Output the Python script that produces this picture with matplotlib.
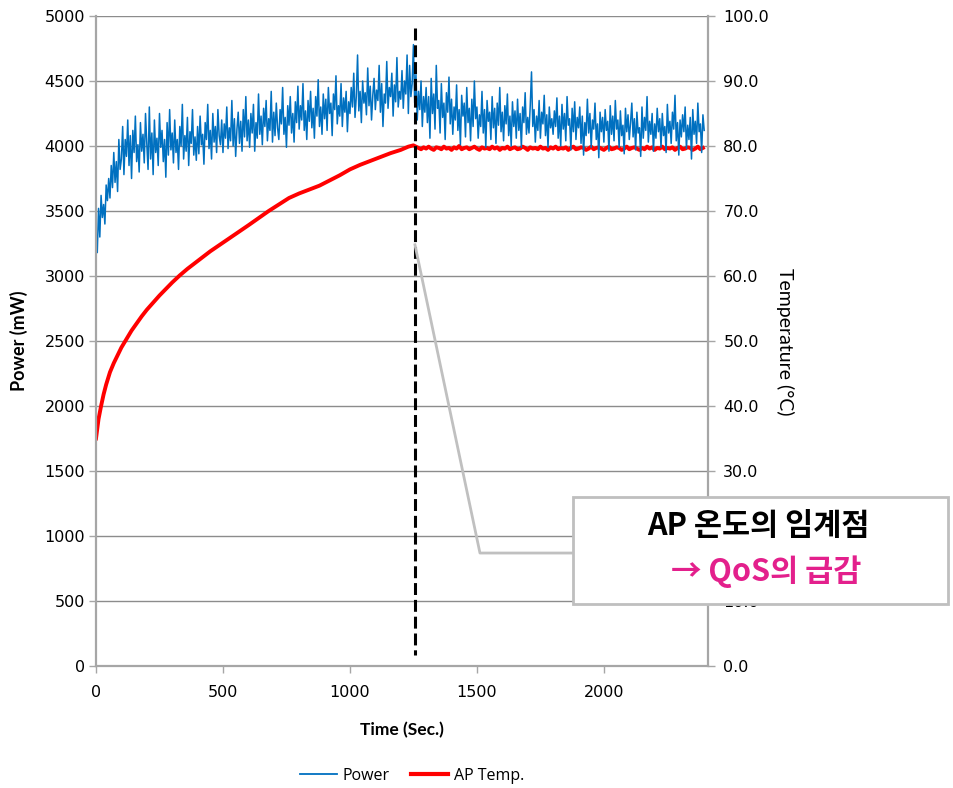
import numpy as np
import matplotlib
matplotlib.use("Agg")
import matplotlib.pyplot as plt
from matplotlib.patches import Rectangle
from matplotlib.lines import Line2D

plt.rcParams['font.family'] = ['DejaVu Sans']

# ---------------- data ----------------
power_step = 5  # seconds between power samples
power_mw = [
    3350, 3180, 3520, 3300, 3620, 3450, 3550, 3400, 3700, 3580, 3750, 3600, 3850, 3680, 3950, 3720, 3880, 3650, 4050, 3820,
    3900, 4150, 3780, 4050, 3920, 4200, 3850, 4080, 3750, 4120, 3950, 4230, 3880, 4010, 3800, 4180, 3960, 4090, 3870, 4250,
    4020, 3820, 4300, 3900, 4100, 3780, 4200, 3950, 4060, 3850, 4250, 3990, 4120, 3880, 4050, 3760, 4180, 3930, 4280, 3970,
    4100, 3870, 4200, 3950, 4050, 3820, 4150, 4000, 4320, 3900, 4080, 3960, 4220, 3850, 4110, 4020, 4280, 3930, 4070, 3890,
    4150, 3940, 4230, 4010, 4090, 3860, 4180, 4050, 4320, 3980, 4120, 3900, 4250, 4030, 4150, 3950, 4280, 4080, 4010, 4200,
    3950, 4170, 4060, 4300, 3980, 4140, 4040, 4350, 4000, 4210, 3920, 4130, 4260, 4020, 4190, 3960, 4280, 4070, 4380, 4040,
    4200, 3990, 4250, 4100, 4320, 3960, 4180, 4060, 4400, 4090, 4230, 4010, 4290, 4150, 4350, 4040, 4210, 4120, 4420, 4030,
    4260, 4080, 4330, 4140, 4050, 4280, 4170, 4450, 4090, 4220, 3990, 4310, 4160, 4380, 4100, 4250, 4030, 4340, 4180, 4460,
    4130, 4310, 4200, 4480, 4120, 4270, 4050, 4350, 4190, 4420, 4140, 4290, 4060, 4380, 4230, 4510, 4150, 4300, 4090, 4400,
    4210, 4360, 4120, 4450, 4250, 4330, 4080, 4400, 4280, 4540, 4170, 4310, 4230, 4480, 4150, 4370, 4260, 4420, 4110, 4340,
    4250, 4450, 4300, 4560, 4220, 4380, 4700, 4270, 4420, 4180, 4500, 4330, 4410, 4240, 4600, 4310, 4460, 4200, 4390, 4520,
    4280, 4430, 4350, 4620, 4260, 4480, 4150, 4400, 4330, 4650, 4290, 4450, 4380, 4560, 4230, 4470, 4340, 4680, 4300, 4420,
    4360, 4580, 4290, 4500, 4400, 4700, 4250, 4620, 4380, 4480, 4780, 4330, 4550, 4200, 4420, 4280, 4500, 4150, 4380, 4260,
    4450, 4180, 4380, 4060, 4520, 4250, 4400, 4130, 4620, 4290, 4350, 4100, 4480, 4220, 4330, 4050, 4410, 4260, 4530, 4170,
    4360, 4090, 4300, 4200, 4470, 4120, 4280, 4010, 4390, 4230, 4330, 4070, 4450, 4180, 4290, 4040, 4360, 4150, 4500, 4210,
    4300, 4060, 4240, 4150, 4420, 4100, 4280, 3990, 4350, 4190, 4260, 4050, 4380, 4140, 4290, 4020, 4330, 4160, 4450, 4110,
    4260, 4040, 4310, 4170, 4400, 4080, 4230, 4000, 4340, 4150, 4270, 4060, 4360, 4120, 4250, 3990, 4300, 4180, 4410, 4090,
    4220, 4100, 4310, 4570, 4150, 4280, 4030, 4230, 4120, 4350, 4060, 4260, 4170, 4390, 4080, 4240, 3990, 4300, 4140, 4210,
    4090, 4270, 4150, 4370, 4060, 4230, 4000, 4320, 4130, 4250, 4040, 4380, 4160, 4210, 3970, 4290, 4110, 4340, 4050, 4220,
    4140, 4300, 4020, 4230, 3930, 4180, 4080, 4360, 4100, 4250, 3990, 4200, 4130, 4330, 4050, 4170, 3910, 4260, 4110, 4220,
    4030, 4280, 4120, 4190, 3960, 4310, 4090, 4230, 4040, 4350, 4130, 4200, 3990, 4270, 4080, 4160, 3940, 4290, 4110, 4240,
    4050, 4180, 4330, 4070, 4210, 3970, 4260, 4100, 4140, 3920, 4300, 4060, 4220, 4120, 4380, 4030, 4190, 4090, 4250, 3960,
    4170, 4060, 4290, 4110, 4210, 3990, 4250, 4080, 4150, 3950, 4320, 4100, 4190, 4020, 4260, 4130, 4390, 4040, 4180, 3930,
    4200, 4070, 4240, 4110, 4300, 3980, 4160, 4050, 4220, 3900, 4280, 4090, 4190, 4020, 4330, 4110, 4170, 3950, 4240, 4120,
]

temp_rise_time = [0, 5, 10, 20, 30, 40, 55, 70, 85, 100, 120, 140, 160, 180, 200, 225, 250, 275, 300, 330,
                  360, 390, 420, 450, 480, 510, 540, 570, 600, 640, 680, 720, 760, 800, 840, 880, 920, 960,
                  1000, 1040, 1080, 1120, 1160, 1200, 1230, 1250]
temp_rise_c = [35.0, 36.5, 38.0, 40.0, 41.8, 43.3, 45.2, 46.6, 47.8, 49.0, 50.3, 51.6, 52.7, 53.8, 54.8, 55.9,
               57.0, 58.0, 59.0, 60.1, 61.1, 62.0, 62.9, 63.8, 64.6, 65.4, 66.2, 67.0, 67.8, 68.9, 70.0, 71.0,
               72.0, 72.7, 73.3, 73.9, 74.7, 75.5, 76.4, 77.1, 77.7, 78.3, 78.9, 79.4, 79.9, 80.1]
temp_flat_start = 1270
temp_flat_step = 10
temp_flat_c = [
    79.7, 79.5, 79.8, 79.6, 79.9, 79.6, 79.4, 79.8, 79.7, 79.5,
    79.9, 79.6, 79.7, 79.4, 79.8, 79.6, 80.0, 79.5, 79.7, 79.8,
    79.5, 79.7, 79.9, 79.6, 79.4, 79.8, 79.6, 79.7, 79.5, 79.9,
    79.6, 79.8, 79.4, 79.7, 79.6, 79.9, 79.5, 79.7, 79.8, 79.5,
    79.6, 79.9, 79.7, 79.4, 79.8, 79.6, 79.7, 79.5, 79.9, 79.6,
    79.7, 79.4, 79.8, 79.6, 79.9, 79.5, 79.7, 79.6, 79.8, 79.4,
    79.7, 79.9, 79.5, 79.6, 79.8, 79.7, 79.4, 79.6, 79.9, 79.5,
    79.7, 79.8, 79.6, 79.4, 79.7, 79.9, 79.5, 79.6, 79.8, 79.7,
    79.4, 79.6, 79.9, 79.5, 79.7, 79.8, 79.6, 79.4, 79.7, 79.5,
    79.9, 79.6, 79.8, 79.4, 79.7, 79.6, 79.9, 79.5, 79.7, 79.6,
    79.8, 79.4, 79.7, 79.9, 79.5, 79.6, 79.8, 79.7, 79.4, 79.6,
    79.9, 79.5, 79.7,
]

critical_time = 1256
power_ticks = list(range(0, 5001, 500))
temp_ticks = list(range(0, 101, 10))
time_ticks = [0, 500, 1000, 1500, 2000]

# ---------------- figure ----------------
W, H = 954, 788
fig = plt.figure(figsize=(W / 100, H / 100), dpi=100)
L, R, T, B = 96, 708, 16, 666
ax2 = fig.add_axes([L / W, 1 - B / H, (R - L) / W, (B - T) / H])
ax = ax2.twinx()
ax.set_zorder(ax2.get_zorder() + 1)
ax.patch.set_visible(False)

ax.yaxis.tick_left()
ax.yaxis.set_label_position("left")
ax2.yaxis.tick_right()
ax2.yaxis.set_label_position("right")

t_power = np.arange(len(power_mw)) * power_step
t_temp = list(temp_rise_time) + list(temp_flat_start + temp_flat_step * np.arange(len(temp_flat_c)))
temp_all = list(temp_rise_c) + list(temp_flat_c)

ax2.plot(t_temp, temp_all, color="#ff0000", lw=2.8, solid_joinstyle="round")
ax.plot(t_power, power_mw, color="#0070c0", lw=1.1)

ax.set_xlim(0, 2410)
ax2.set_xlim(0, 2410)
ax.set_ylim(0, 5000)
ax2.set_ylim(0, 100)

ax2.set_yticks(temp_ticks)
ax2.set_yticklabels([f"{v:.1f}" for v in temp_ticks])
ax.set_yticks(power_ticks)
ax.set_yticklabels([str(v) for v in power_ticks])
ax2.set_xticks(time_ticks)
ax2.set_xticklabels([str(v) for v in time_ticks])
# the 20.0 label sits entirely behind the callout box in the reference
ax2.get_yticklabels()[2].set_visible(False)

ax2.grid(axis="y", color="#8c8c8c", lw=1.0)
ax2.set_axisbelow(True)

for a in (ax, ax2):
    for s in a.spines.values():
        s.set_color("#a6a6a6")
        s.set_linewidth(1.6)
    a.spines["top"].set_visible(False)
ax2.spines["left"].set_visible(False)
ax.spines["right"].set_visible(False)
ax.spines["bottom"].set_visible(False)

tick_font = dict(labelsize=11.5, colors="black")
ax.tick_params(axis="y", direction="out", length=5, width=1, color="#a6a6a6", pad=3, **tick_font)
ax2.tick_params(axis="y", direction="out", length=5, width=1, color="#a6a6a6", pad=6, **tick_font)
ax2.tick_params(axis="x", direction="out", length=5, width=1, color="#a6a6a6", pad=9, **tick_font)
ax.tick_params(axis="x", bottom=False, labelbottom=False)

ax.set_ylabel("Power (mW)", family="Lato", fontweight="bold", fontsize=13)
ax.yaxis.set_label_coords((28 - L) / (R - L), 0.5)
ax2.set_ylabel("Temperature (°C)", rotation=-90, family="Lato", fontweight="normal", fontsize=14,
               va="center")
ax2.yaxis.set_label_coords((785 - L) / (R - L), (B - 342) / (B - T))
ax2.set_xlabel("Time (Sec.)", family="Lato", fontweight="bold", fontsize=12.5)
ax2.xaxis.set_label_coords(0.5, (B - 722) / (B - T))

# critical point dashed line
ax.plot([critical_time, critical_time], [4910, 85], color="black", lw=2.2, dashes=(3.9, 1.6))

# callout leader line
ax.plot([critical_time, 1512, 1880], [3240, 869, 869], color="#c0c0c0", lw=2.0, zorder=5)

# callout box
box = Rectangle((573 / W, 1 - 604 / H), 375 / W, 107 / H, transform=fig.transFigure,
                facecolor="white", edgecolor="#bfbfbf", lw=2.0, zorder=10)
fig.add_artist(box)
fig.text(758 / W, 1 - 526 / H, "AP 온도의 임계점", ha="center", va="center",
         family=["Noto Sans CJK KR", "DejaVu Sans"], fontweight="bold", fontsize=22,
         color="black", zorder=11)
fig.text(766 / W, 1 - 572 / H, "→ QoS의 급감", ha="center", va="center",
         family=["Noto Sans CJK KR", "DejaVu Sans"], fontweight="bold", fontsize=22,
         color="#e3208c", zorder=11)

# legend
handles = [Line2D([], [], color="#0070c0", lw=1.3), Line2D([], [], color="#ff0000", lw=3)]
fig.legend(handles, ["Power", "AP Temp."], loc="center", bbox_to_anchor=(412 / W, 1 - 776 / H),
           ncol=2, frameon=False, prop=dict(family="Open Sans", size=11.5),
           handlelength=2.3, columnspacing=1.3, handletextpad=0.4)

fig.savefig("out.png", dpi=100)
